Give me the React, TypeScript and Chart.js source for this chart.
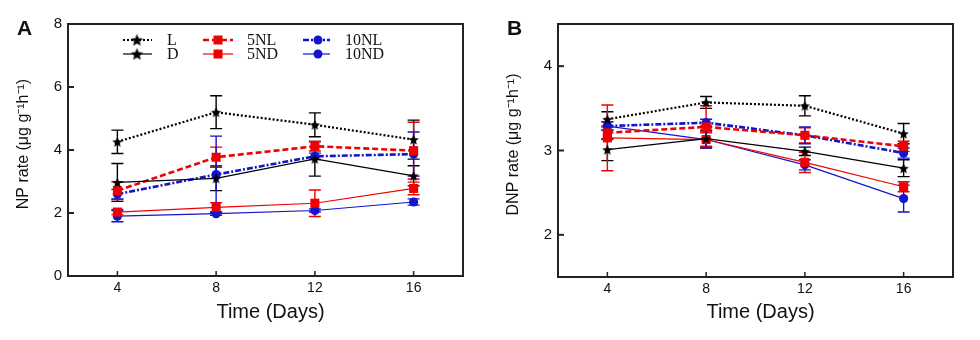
import React, { useEffect, useRef } from 'react';
import { Chart, registerables } from 'chart.js';

Chart.register(...registerables);

// ---------------- data ----------------
const days = [4, 8, 12, 16];
const xTicks = [4, 8, 12, 16];
const seriesLabels = ['L', 'D', '5NL', '5ND', '10NL', '10ND'];
const xTitle = 'Time (Days)';

// Panel A: NP rate
const npL = [4.26, 5.2, 4.8, 4.33];
const npLErr = [0.37, 0.52, 0.38, 0.62];
const npD = [2.97, 3.1, 3.72, 3.18];
const npDErr = [0.6, 0.39, 0.55, 0.32];
const np5NL = [2.71, 3.77, 4.12, 3.98];
const np5NLErr = [0.28, 0.32, 0.15, 0.9];
const np5ND = [2.03, 2.18, 2.31, 2.78];
const np5NDErr = [0.08, 0.15, 0.42, 0.2];
const np10NL = [2.6, 3.22, 3.8, 3.87];
const np10NLErr = [0.15, 1.22, 0.1, 0.7];
const np10ND = [1.9, 1.98, 2.08, 2.35];
const np10NDErr = [0.18, 0.05, 0.05, 0.1];
const npYTicks = [0, 2, 4, 6, 8];

// Panel B: DNP rate
const dnpL = [3.37, 3.57, 3.53, 3.2];
const dnpLErr = [0.09, 0.07, 0.12, 0.12];
const dnpD = [3.01, 3.14, 2.99, 2.79];
const dnpDErr = [0.13, 0.1, 0.05, 0.1];
const dnp5NL = [3.21, 3.28, 3.18, 3.05];
const dnp5NLErr = [0.08, 0.25, 0.09, 0.06];
const dnp5ND = [3.15, 3.13, 2.86, 2.57];
const dnp5NDErr = [0.39, 0.08, 0.12, 0.06];
const dnp10NL = [3.29, 3.33, 3.18, 2.97];
const dnp10NLErr = [0.05, 0.04, 0.1, 0.06];
const dnp10ND = [3.29, 3.13, 2.83, 2.43];
const dnp10NDErr = [0.05, 0.1, 0.06, 0.16];
const dnpYTicks = [2, 3, 4];

// ---------------- styles ----------------
const RED = '#f00000';
const BLUE = '#1414c8';
const SANS = '"Liberation Sans", Arial, sans-serif';
const SERIF = '"Liberation Serif", "Times New Roman", serif';

type Marker = 'star' | 'rect' | 'circle';
const seriesStyles: { color: string; dash: number[]; width: number; marker: Marker }[] = [
  { color: '#000', dash: [2, 2], width: 2.2, marker: 'star' },
  { color: '#000', dash: [], width: 1.2, marker: 'star' },
  { color: RED, dash: [6, 3], width: 2.6, marker: 'rect' },
  { color: RED, dash: [], width: 1.2, marker: 'rect' },
  { color: BLUE, dash: [6, 2, 2, 2], width: 2.6, marker: 'circle' },
  { color: BLUE, dash: [], width: 1.2, marker: 'circle' },
];

function makeStar(color: string, r: number): HTMLCanvasElement {
  const size = Math.ceil(r * 2 + 2);
  const c = document.createElement('canvas');
  c.width = size;
  c.height = size;
  const ctx = c.getContext('2d')!;
  ctx.fillStyle = color;
  ctx.beginPath();
  for (let i = 0; i < 10; i++) {
    const rad = i % 2 === 0 ? r : r * 0.45;
    const a = -Math.PI / 2 + (i * Math.PI) / 5;
    const x = size / 2 + rad * Math.cos(a);
    const y = size / 2 + 0.6 + rad * Math.sin(a);
    if (i === 0) ctx.moveTo(x, y);
    else ctx.lineTo(x, y);
  }
  ctx.closePath();
  ctx.fill();
  return c;
}

function drawMarker(ctx: CanvasRenderingContext2D, marker: Marker, color: string, x: number, y: number, star: HTMLCanvasElement) {
  ctx.save();
  ctx.setLineDash([]);
  ctx.fillStyle = color;
  if (marker === 'star') {
    ctx.drawImage(star, x - star.width / 2, y - star.height / 2);
  } else if (marker === 'rect') {
    ctx.fillRect(x - 4.5, y - 4.5, 9, 9);
  } else {
    ctx.beginPath();
    ctx.arc(x, y, 4.5, 0, Math.PI * 2);
    ctx.fill();
  }
  ctx.restore();
}

// ---------------- plugins ----------------
const framePlugin = {
  id: 'frame',
  beforeDatasetsDraw(chart: any) {
    const { ctx, chartArea: a } = chart;
    const ys = chart.scales.y;
    const xs = chart.scales.x;
    ctx.save();
    ctx.strokeStyle = '#222';
    ctx.lineWidth = 2;
    ctx.setLineDash([]);
    ctx.strokeRect(a.left, a.top, a.right - a.left, a.bottom - a.top);
    ys.ticks.forEach((t: any) => {
      const py = ys.getPixelForValue(t.value);
      ctx.beginPath();
      ctx.moveTo(a.left, py);
      ctx.lineTo(a.left + 6, py);
      ctx.stroke();
    });
    ctx.lineWidth = 1.5;
    xs.ticks.forEach((t: any) => {
      const px = xs.getPixelForValue(t.value);
      ctx.beginPath();
      ctx.moveTo(px, a.bottom);
      ctx.lineTo(px, a.bottom - 5);
      ctx.stroke();
    });
    // error bars
    chart.data.datasets.forEach((ds: any, i: number) => {
      const meta = chart.getDatasetMeta(i);
      ctx.strokeStyle = ds.borderColor;
      ctx.lineWidth = 1.4;
      meta.data.forEach((pt: any, j: number) => {
        const v = ds.data[j].y;
        const e = ds.errors[j];
        const x = pt.x;
        const y1 = ys.getPixelForValue(v + e);
        const y2 = ys.getPixelForValue(v - e);
        ctx.beginPath();
        ctx.moveTo(x, y1);
        ctx.lineTo(x, y2);
        ctx.moveTo(x - 6, y1);
        ctx.lineTo(x + 6, y1);
        ctx.moveTo(x - 6, y2);
        ctx.lineTo(x + 6, y2);
        ctx.stroke();
      });
    });
    ctx.restore();
  },
};

const annotPlugin = {
  id: 'annot',
  afterDraw(chart: any) {
    const opts = chart.options.plugins.annot;
    const { ctx, chartArea: a } = chart;
    ctx.save();
    ctx.fillStyle = '#111';
    ctx.font = `bold 21px ${SANS}`;
    ctx.textAlign = 'left';
    ctx.textBaseline = 'alphabetic';
    ctx.fillText(opts.letter, 17, 35);

    // axis titles
    ctx.font = `20px ${SANS}`;
    ctx.textAlign = 'center';
    ctx.textBaseline = 'alphabetic';
    ctx.fillText(xTitle, (a.left + a.right) / 2 + 5, 318);
    ctx.save();
    ctx.translate(24, (a.top + a.bottom) / 2 - 6);
    ctx.rotate(-Math.PI / 2);
    ctx.font = `16px ${SANS}`;
    ctx.textBaseline = 'middle';
    ctx.fillText(opts.yTitle, 0, 0);
    ctx.restore();

    if (opts.legend) {
      const star = opts.star;
      const cols = [
        { lx0: 55, lx1: 84, mx: 69, tx: 99 },
        { lx0: 135, lx1: 165, mx: 150, tx: 179 },
        { lx0: 235, lx1: 262, mx: 250, tx: 277 },
      ];
      const rows = [40, 54];
      const order = [
        [0, 2, 4],
        [1, 3, 5],
      ];
      ctx.font = `16px ${SERIF}`;
      ctx.textAlign = 'left';
      ctx.textBaseline = 'middle';
      order.forEach((row, r) => {
        row.forEach((si, c) => {
          const st = seriesStyles[si];
          const col = cols[c];
          const y = rows[r];
          ctx.strokeStyle = st.color;
          ctx.lineWidth = st.width;
          ctx.setLineDash(st.dash);
          ctx.beginPath();
          ctx.moveTo(a.left + col.lx0, y);
          ctx.lineTo(a.left + col.lx1, y);
          ctx.stroke();
          ctx.setLineDash([]);
          drawMarker(ctx, st.marker, st.color, a.left + col.mx, y, star);
          ctx.fillStyle = '#111';
          ctx.fillText(seriesLabels[si], a.left + col.tx, y + 1);
        });
      });
    }
    ctx.restore();
  },
};

// ---------------- panel ----------------
type PanelProps = {
  left: number;
  letter: string;
  yTitle: string;
  values: number[][];
  errors: number[][];
  yMin: number;
  yMax: number;
  yTicks: number[];
  legend: boolean;
  xAxisH: number;
};

function Panel(p: PanelProps) {
  const ref = useRef<HTMLCanvasElement>(null);
  useEffect(() => {
    const star = makeStar('#000', 5.5);
    const legendStar = makeStar('#000', 6.5);
    const datasets = p.values.map((vals, i) => {
      const st = seriesStyles[i];
      return {
        label: seriesLabels[i],
        data: vals.map((v, j) => ({ x: days[j], y: v })),
        errors: p.errors[i],
        borderColor: st.color,
        backgroundColor: st.color,
        borderWidth: st.width,
        borderDash: st.dash,
        pointStyle: st.marker === 'star' ? star : st.marker,
        pointRadius: st.marker === 'rect' ? 6.4 : st.marker === 'circle' ? 4.6 : 6,
        pointBorderWidth: 0,
        pointBackgroundColor: st.color,
        pointBorderColor: st.color,
        tension: 0,
        fill: false,
      } as any;
    });
    const chart = new Chart(ref.current!, {
      type: 'line',
      data: { datasets },
      plugins: [framePlugin, annotPlugin],
      options: {
        responsive: false,
        animation: false,
        devicePixelRatio: 1,
        layout: { padding: { left: 0, top: 24, right: 27, bottom: 0 } },
        plugins: {
          legend: { display: false },
          tooltip: { enabled: false },
          annot: { letter: p.letter, legend: p.legend, star: legendStar, yTitle: p.yTitle },
        } as any,
        scales: {
          x: {
            type: 'linear',
            min: 2,
            max: 18,
            afterBuildTicks: (s: any) => {
              s.ticks = xTicks.map((v) => ({ value: v }));
            },
            afterFit: (s: any) => {
              s.height = p.xAxisH;
            },
            grid: { display: false, drawTicks: false },
            border: { display: false },
            ticks: { padding: 4, color: '#111', font: { family: SANS, size: 14 } },
            title: { display: false },
          },
          y: {
            type: 'linear',
            min: p.yMin,
            max: p.yMax,
            afterBuildTicks: (s: any) => {
              s.ticks = p.yTicks.map((v) => ({ value: v }));
            },
            afterFit: (s: any) => {
              s.width = 68;
            },
            grid: { display: false, drawTicks: false },
            border: { display: false },
            ticks: { padding: 6, color: '#111', font: { family: SANS, size: 15 } },
            title: { display: false },
          },
        },
      } as any,
    });
    return () => chart.destroy();
  }, []);
  return (
    <canvas
      ref={ref}
      width={490}
      height={340}
      style={{ position: 'absolute', left: p.left, top: 0, width: 490, height: 340 }}
    />
  );
}

export default function App() {
  return (
    <div style={{ position: 'absolute', left: 0, top: 0, width: 980, height: 340, background: '#fff' }}>
      <Panel
        left={0}
        letter="A"
        yTitle="NP rate (μg g⁻¹h⁻¹)"
        values={[npL, npD, np5NL, np5ND, np10NL, np10ND]}
        errors={[npLErr, npDErr, np5NLErr, np5NDErr, np10NLErr, np10NDErr]}
        yMin={0}
        yMax={8}
        yTicks={npYTicks}
        legend={true}
        xAxisH={64}
      />
      <Panel
        left={490}
        letter="B"
        yTitle="DNP rate (μg g⁻¹h⁻¹)"
        values={[dnpL, dnpD, dnp5NL, dnp5ND, dnp10NL, dnp10ND]}
        errors={[dnpLErr, dnpDErr, dnp5NLErr, dnp5NDErr, dnp10NLErr, dnp10NDErr]}
        yMin={1.5}
        yMax={4.5}
        yTicks={dnpYTicks}
        legend={false}
        xAxisH={63}
      />
    </div>
  );
}
